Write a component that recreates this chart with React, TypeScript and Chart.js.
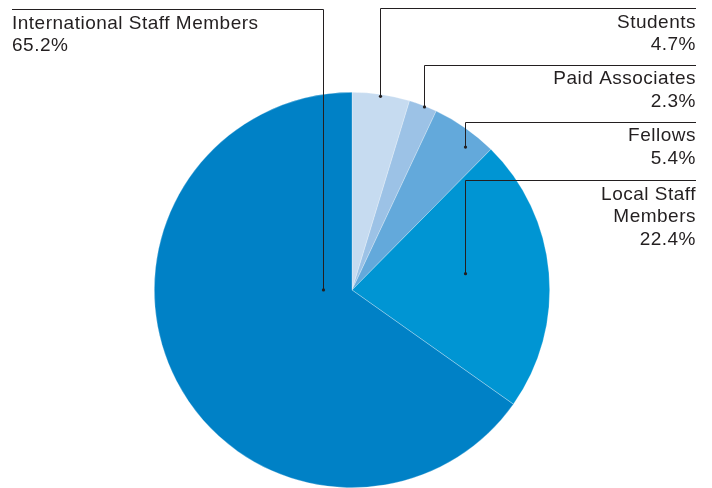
import React, { useEffect, useRef } from "react";
import { Chart, registerables } from "chart.js";

Chart.register(...registerables);

const categories = ["Students", "Paid Associates", "Fellows", "Local Staff Members", "International Staff Members"];
const values = [4.7, 2.3, 5.4, 22.4, 65.2];
const valueLabels = ["4.7%", "2.3%", "5.4%", "22.4%", "65.2%"];
const labelLines = [["Students"], ["Paid Associates"], ["Fellows"], ["Local Staff", "Members"], ["International Staff Members"]];
const colors = ["#c6dbf0", "#9cc2e6", "#63a9db", "#0095d3", "#0081c6"];

// leader anchor inside slice: fraction of slice angle, fraction of radius
const anchorAngleFrac = [0.485, 0.55, 0.67, 0.46, 0.617];
const anchorRadiusFrac = [0.99, 0.995, 0.92, 0.576, 0.146];
// label layout: y of the horizontal leader line, side
const lineY = [8, 64.5, 121.5, 180, 9];
const side = ["right", "right", "right", "right", "left"];

const TEXT_RIGHT = 696;
const TEXT_LEFT = 12;
const FONT = "19px 'Liberation Sans', Arial, sans-serif";
const INK = "#231f20";
const LINE_H = 22.7;
const BASE_OFF = 19.5;

const leaderPlugin = {
  id: "leaders",
  afterDraw(chart: any) {
    const ctx = chart.ctx;
    const meta = chart.getDatasetMeta(0);
    ctx.save();
    ctx.strokeStyle = INK;
    ctx.fillStyle = INK;
    ctx.lineWidth = 1;
    ctx.font = FONT;
    ctx.textBaseline = "alphabetic";
    meta.data.forEach((arc: any, i: number) => {
      const p = arc.getProps(["x", "y", "startAngle", "endAngle", "outerRadius"], true);
      const a = p.startAngle + (p.endAngle - p.startAngle) * anchorAngleFrac[i];
      const r = p.outerRadius * anchorRadiusFrac[i];
      const ax = Math.round(p.x + Math.cos(a) * r) + 0.5;
      const ay = p.y + Math.sin(a) * r;
      const ly = Math.round(lineY[i]) + 0.5;
      const endX = side[i] === "right" ? TEXT_RIGHT : TEXT_LEFT;
      ctx.beginPath();
      ctx.moveTo(ax, ay);
      ctx.lineTo(ax, ly);
      ctx.lineTo(endX, ly);
      ctx.stroke();
      ctx.beginPath();
      ctx.arc(ax, ay, 1.6, 0, Math.PI * 2);
      ctx.fill();
      ctx.textAlign = side[i] === "right" ? "right" : "left";
      (ctx as any).letterSpacing = "0.5px";
      const lines = [...labelLines[i], valueLabels[i]];
      lines.forEach((t, k) => {
        ctx.fillText(t, endX, lineY[i] + BASE_OFF + k * LINE_H);
      });
      (ctx as any).letterSpacing = "0px";
    });
    ctx.restore();
  },
};

export default function App() {
  const ref = useRef<HTMLCanvasElement>(null);
  useEffect(() => {
    document.body.style.margin = "0";
    const chart = new Chart(ref.current!, {
      type: "pie",
      data: {
        labels: categories,
        datasets: [
          {
            data: values,
            backgroundColor: colors,
            borderColor: "rgba(255,255,255,0.45)",
            borderWidth: 0.6,
          },
        ],
      },
      options: {
        animation: false,
        responsive: false,
        layout: { padding: { top: 92, bottom: 0, left: 154, right: 162 } },
        plugins: { legend: { display: false }, tooltip: { enabled: false } },
      },
      plugins: [leaderPlugin],
    });
    return () => chart.destroy();
  }, []);
  return (
    <div style={{ width: 712, height: 488 }}>
      <canvas ref={ref} width={712} height={488} style={{ display: "block" }} />
    </div>
  );
}
